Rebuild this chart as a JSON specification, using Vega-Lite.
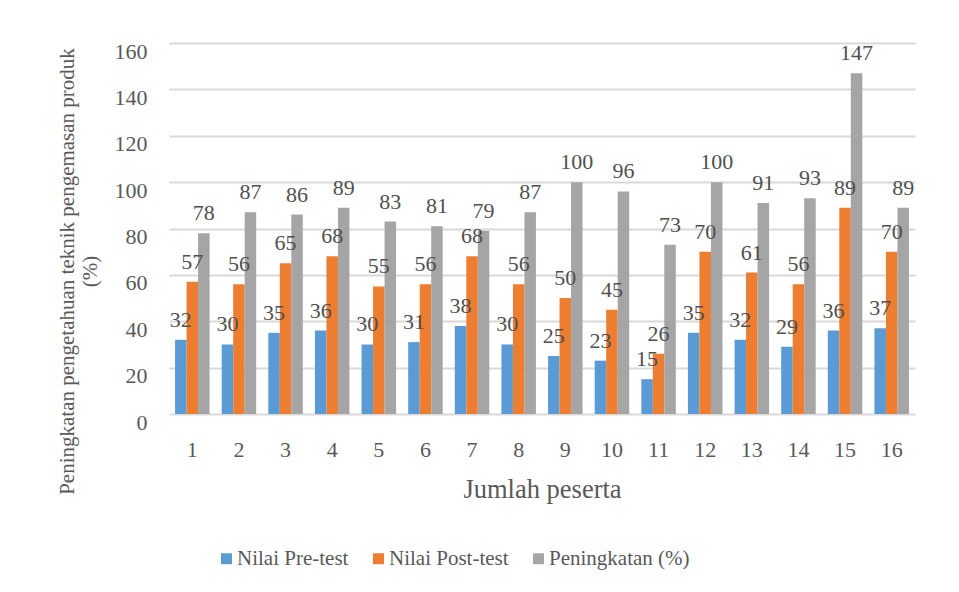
{
  "$schema": "https://vega.github.io/schema/vega-lite/v6.json",
  "width": 746,
  "height": 371,
  "autosize": {"type": "none"},
  "padding": {"left": 169, "top": 43, "right": 44, "bottom": 178},
  "background": "#ffffff",
  "config": {
    "font": "Liberation Serif",
    "view": {"stroke": null},
    "mark": {"font": "Liberation Serif"},
    "axis": {"labelFont": "Liberation Serif", "titleFont": "Liberation Serif", "labelColor": "#595959", "titleColor": "#595959", "titleFontWeight": "normal"},
    "legend": {"labelFont": "Liberation Serif", "labelColor": "#595959"}
  },
  "data": {
    "values": [
      {"peserta": 1, "seri": "Nilai Pre-test", "nilai": 32},
      {"peserta": 1, "seri": "Nilai Post-test", "nilai": 57},
      {"peserta": 1, "seri": "Peningkatan (%)", "nilai": 78},
      {"peserta": 2, "seri": "Nilai Pre-test", "nilai": 30},
      {"peserta": 2, "seri": "Nilai Post-test", "nilai": 56},
      {"peserta": 2, "seri": "Peningkatan (%)", "nilai": 87},
      {"peserta": 3, "seri": "Nilai Pre-test", "nilai": 35},
      {"peserta": 3, "seri": "Nilai Post-test", "nilai": 65},
      {"peserta": 3, "seri": "Peningkatan (%)", "nilai": 86},
      {"peserta": 4, "seri": "Nilai Pre-test", "nilai": 36},
      {"peserta": 4, "seri": "Nilai Post-test", "nilai": 68},
      {"peserta": 4, "seri": "Peningkatan (%)", "nilai": 89},
      {"peserta": 5, "seri": "Nilai Pre-test", "nilai": 30},
      {"peserta": 5, "seri": "Nilai Post-test", "nilai": 55},
      {"peserta": 5, "seri": "Peningkatan (%)", "nilai": 83},
      {"peserta": 6, "seri": "Nilai Pre-test", "nilai": 31},
      {"peserta": 6, "seri": "Nilai Post-test", "nilai": 56},
      {"peserta": 6, "seri": "Peningkatan (%)", "nilai": 81},
      {"peserta": 7, "seri": "Nilai Pre-test", "nilai": 38},
      {"peserta": 7, "seri": "Nilai Post-test", "nilai": 68},
      {"peserta": 7, "seri": "Peningkatan (%)", "nilai": 79},
      {"peserta": 8, "seri": "Nilai Pre-test", "nilai": 30},
      {"peserta": 8, "seri": "Nilai Post-test", "nilai": 56},
      {"peserta": 8, "seri": "Peningkatan (%)", "nilai": 87},
      {"peserta": 9, "seri": "Nilai Pre-test", "nilai": 25},
      {"peserta": 9, "seri": "Nilai Post-test", "nilai": 50},
      {"peserta": 9, "seri": "Peningkatan (%)", "nilai": 100},
      {"peserta": 10, "seri": "Nilai Pre-test", "nilai": 23},
      {"peserta": 10, "seri": "Nilai Post-test", "nilai": 45},
      {"peserta": 10, "seri": "Peningkatan (%)", "nilai": 96},
      {"peserta": 11, "seri": "Nilai Pre-test", "nilai": 15},
      {"peserta": 11, "seri": "Nilai Post-test", "nilai": 26},
      {"peserta": 11, "seri": "Peningkatan (%)", "nilai": 73},
      {"peserta": 12, "seri": "Nilai Pre-test", "nilai": 35},
      {"peserta": 12, "seri": "Nilai Post-test", "nilai": 70},
      {"peserta": 12, "seri": "Peningkatan (%)", "nilai": 100},
      {"peserta": 13, "seri": "Nilai Pre-test", "nilai": 32},
      {"peserta": 13, "seri": "Nilai Post-test", "nilai": 61},
      {"peserta": 13, "seri": "Peningkatan (%)", "nilai": 91},
      {"peserta": 14, "seri": "Nilai Pre-test", "nilai": 29},
      {"peserta": 14, "seri": "Nilai Post-test", "nilai": 56},
      {"peserta": 14, "seri": "Peningkatan (%)", "nilai": 93},
      {"peserta": 15, "seri": "Nilai Pre-test", "nilai": 36},
      {"peserta": 15, "seri": "Nilai Post-test", "nilai": 89},
      {"peserta": 15, "seri": "Peningkatan (%)", "nilai": 147},
      {"peserta": 16, "seri": "Nilai Pre-test", "nilai": 37},
      {"peserta": 16, "seri": "Nilai Post-test", "nilai": 70},
      {"peserta": 16, "seri": "Peningkatan (%)", "nilai": 89}
    ]
  },
  "encoding": {
    "x": {
      "field": "peserta",
      "type": "ordinal",
      "scale": {"paddingInner": 0.26, "paddingOuter": 0.13},
      "axis": {
        "title": "Jumlah peserta",
        "titleFontSize": 26.5,
        "titlePadding": 16,
        "labelFontSize": 22,
        "labelAngle": 0,
        "labelPadding": 25,
        "domain": false,
        "ticks": false,
        "grid": false
      }
    },
    "xOffset": {
      "field": "seri",
      "type": "nominal",
      "scale": {"domain": ["Nilai Pre-test", "Nilai Post-test", "Peningkatan (%)"], "paddingInner": 0, "paddingOuter": 0}
    },
    "y": {
      "field": "nilai",
      "type": "quantitative",
      "scale": {"domain": [0, 160], "nice": false},
      "axis": {
        "title": ["Peningkatan pengetahuan teknik pengemasan produk", "(%)"],
        "titleFontSize": 21,
        "titleLineHeight": 23,
        "titleAngle": -90,
        "titleX": -102,
        "titleY": 228,
        "titleBaseline": "middle",
        "titleAlign": "center",
        "values": [0, 20, 40, 60, 80, 100, 120, 140, 160],
        "labelFontSize": 22,
        "labelPadding": 22,
        "labelOffset": 8,
        "domain": false,
        "ticks": false,
        "grid": true,
        "gridColor": "#D9D9D9",
        "gridWidth": 2
      }
    }
  },
  "layer": [
    {
      "mark": {"type": "bar"},
      "encoding": {
        "color": {
          "field": "seri",
          "type": "nominal",
          "scale": {"domain": ["Nilai Pre-test", "Nilai Post-test", "Peningkatan (%)"], "range": ["#5B9BD5", "#ED7D31", "#A5A5A5"]},
          "legend": {
            "title": null,
            "orient": "none",
            "direction": "horizontal",
            "legendX": 47,
            "legendY": 505,
            "symbolType": "square",
            "symbolSize": 121,
            "symbolStrokeWidth": 0,
            "labelFont": "Liberation Serif",
            "labelFontSize": 21,
            "labelOffset": 0,
            "columnPadding": 19
          }
        }
      }
    },
    {
      "mark": {"type": "text", "baseline": "middle", "align": "center", "dy": -20, "fontSize": 22, "color": "#505050", "font": "Liberation Serif"},
      "encoding": {
        "text": {"field": "nilai", "type": "quantitative"}
      }
    }
  ]
}
